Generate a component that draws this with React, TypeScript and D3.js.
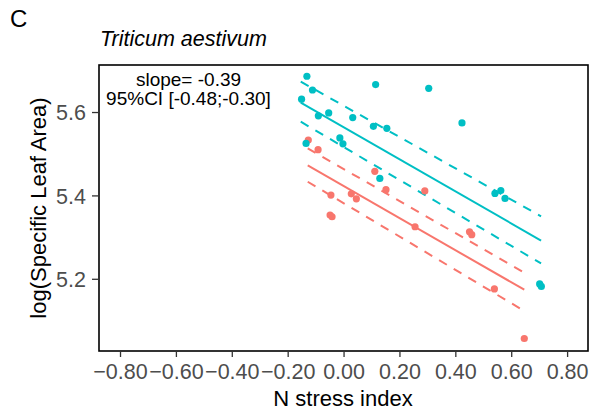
import React from "react";
import * as d3 from "d3";

// points: [N stress index, log(SLA)]
const tealPoints: [number, number][] = [
  [-0.133, 5.687], [-0.113, 5.654], [-0.152, 5.632], [0.113, 5.667],
  [0.303, 5.658], [-0.092, 5.592], [-0.055, 5.599], [0.031, 5.588],
  [0.105, 5.567], [0.153, 5.562], [0.422, 5.575], [-0.015, 5.539],
  [-0.004, 5.525], [-0.136, 5.526], [0.128, 5.442], [0.54, 5.406],
  [0.561, 5.413], [0.576, 5.394], [0.7, 5.189], [0.706, 5.183],
];

const redPoints: [number, number][] = [
  [-0.128, 5.534], [-0.093, 5.511], [0.11, 5.459], [0.15, 5.415],
  [0.289, 5.412], [-0.047, 5.402], [0.026, 5.405], [0.044, 5.393],
  [-0.05, 5.354], [-0.043, 5.35], [0.254, 5.326], [0.449, 5.314],
  [0.457, 5.307], [0.538, 5.177], [0.645, 5.058],
];

// fitted line and CI lines: [start, end]
const tealRange = [-0.155, 0.705];
const tealFit = [5.624, 5.293];
const tealUpper = [5.674, 5.351];
const tealLower = [5.578, 5.238];

const redRange = [-0.13, 0.645];
const redFit = [5.473, 5.175];
const redUpper = [5.514, 5.216];
const redLower = [5.434, 5.124];

const xTicks = [-0.8, -0.6, -0.4, -0.2, 0, 0.2, 0.4, 0.6, 0.8];
const yTicks = [5.2, 5.4, 5.6];

const annotation = ["slope= -0.39", "95%CI [-0.48;-0.30]"];

const TEAL = "#00BFC4";
const RED = "#F8766D";
const FONT = "'Liberation Sans', Arial, Helvetica, sans-serif";

export default function App() {
  const width = 591;
  const height = 415;
  const left = 99;
  const right = 588;
  const top = 65;
  const bottom = 351;

  const x = d3.scaleLinear().domain([-0.877, 0.873]).range([left, right]);
  const y = d3.scaleLinear().domain([5.028, 5.714]).range([bottom, top]);

  const line = d3
    .line<[number, number]>()
    .x((d) => x(d[0]))
    .y((d) => y(d[1]));

  const seg = (range: number[], ys: number[]) =>
    line([
      [range[0], ys[0]],
      [range[1], ys[1]],
    ]) || "";

  const lines = [
    { d: seg(tealRange, tealFit), c: TEAL, dash: undefined },
    { d: seg(tealRange, tealUpper), c: TEAL, dash: "9,8" },
    { d: seg(tealRange, tealLower), c: TEAL, dash: "9,8" },
    { d: seg(redRange, redFit), c: RED, dash: undefined },
    { d: seg(redRange, redUpper), c: RED, dash: "9,8" },
    { d: seg(redRange, redLower), c: RED, dash: "9,8" },
  ];

  return (
    <svg
      width={width}
      height={height}
      style={{ position: "absolute", left: 0, top: 0, background: "#fff" }}
      fontFamily={FONT}
    >
      <text x={10} y={27} fontSize={24} fill="#000">
        C
      </text>
      <text x={100} y={46} fontSize={21.5} fontStyle="italic" fill="#000">
        Triticum aestivum
      </text>

      {/* fitted lines */}
      {lines.map((l, i) => (
        <path
          key={i}
          d={l.d}
          fill="none"
          stroke={l.c}
          strokeWidth={2}
          strokeDasharray={l.dash}
        />
      ))}

      {/* points */}
      {redPoints.map((p, i) => (
        <circle key={"r" + i} cx={x(p[0])} cy={y(p[1])} r={3.6} fill={RED} />
      ))}
      {tealPoints.map((p, i) => (
        <circle key={"t" + i} cx={x(p[0])} cy={y(p[1])} r={3.6} fill={TEAL} />
      ))}

      {/* annotation */}
      <text x={188.5} y={86} fontSize={19} textAnchor="middle" fill="#000">
        {annotation[0]}
      </text>
      <text x={188.5} y={105} fontSize={19} textAnchor="middle" fill="#000">
        {annotation[1]}
      </text>

      {/* panel border */}
      <rect
        x={left}
        y={top}
        width={right - left}
        height={bottom - top}
        fill="none"
        stroke="#000"
        strokeWidth={1.6}
      />

      {/* x axis */}
      {xTicks.map((t) => (
        <g key={t}>
          <line
            x1={x(t)}
            x2={x(t)}
            y1={bottom}
            y2={bottom + 6}
            stroke="#333"
            strokeWidth={1.3}
          />
          <text
            x={x(t)}
            y={379}
            fontSize={21.5}
            textAnchor="middle"
            fill="#4D4D4D"
          >
            {d3.format(".2f")(t)}
          </text>
        </g>
      ))}
      <text x={343} y={406} fontSize={22} textAnchor="middle" fill="#000">
        N stress index
      </text>

      {/* y axis */}
      {yTicks.map((t) => (
        <g key={t}>
          <line
            x1={left - 7}
            x2={left}
            y1={y(t)}
            y2={y(t)}
            stroke="#333"
            strokeWidth={1.3}
          />
          <text
            x={86}
            y={y(t)}
            dy="0.36em"
            fontSize={21.5}
            textAnchor="end"
            fill="#4D4D4D"
          >
            {d3.format(".1f")(t)}
          </text>
        </g>
      ))}
      <text
        transform={`translate(46,${(top + bottom) / 2}) rotate(-90)`}
        fontSize={22}
        textAnchor="middle"
        fill="#000"
      >
        log(Specific Leaf Area)
      </text>
    </svg>
  );
}
